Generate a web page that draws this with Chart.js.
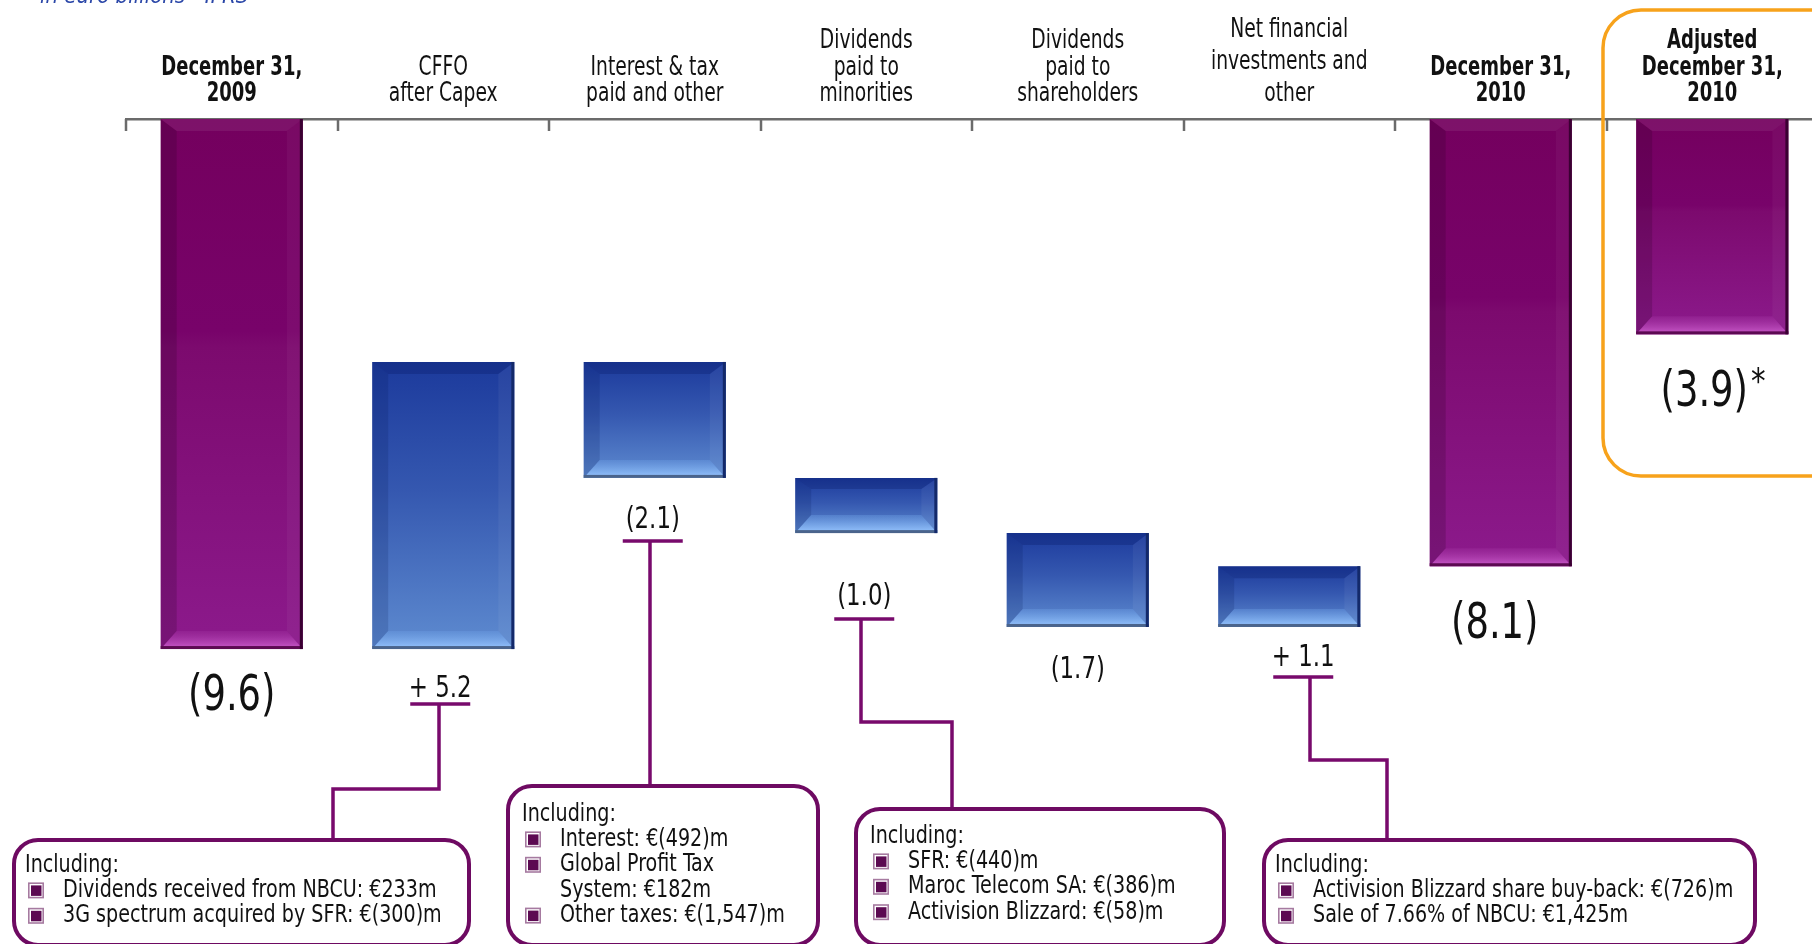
<!DOCTYPE html>
<html><head><meta charset="utf-8">
<script src="https://cdn.jsdelivr.net/npm/chart.js@4.4.1/dist/chart.umd.min.js"></script>
<style>
html,body{margin:0;padding:0;background:#fff;overflow:hidden;}
#wrap{position:relative;width:1830px;height:944px;}
</style></head><body>
<div id="wrap"><canvas id="c"></canvas></div>
<script>
// ---------- data ----------
const categories = [
  ["December 31,","2009"],
  ["CFFO","after Capex"],
  ["Interest & tax","paid and other"],
  ["Dividends","paid to","minorities"],
  ["Dividends","paid to","shareholders"],
  ["Net financial","investments and","other"],
  ["December 31,","2010"],
  ["Adjusted","December 31,","2010"]
];
const openingNetDebt = 9.6;                 // December 31, 2009
const changes = [5.2, -2.1, -1.0, -1.7, 1.1]; // + reduces net debt
const closingNetDebt = 8.1;                 // December 31, 2010
const adjustedNetDebt = 3.9;                // Adjusted December 31, 2010
const valueLabels = ["(9.6)","+ 5.2","(2.1)","(1.0)","(1.7)","+ 1.1","(8.1)","(3.9)"];
const boldCategories = [0, 6, 7];
const subtitle = "in euro billions - IFRS";
const callout1 = [["", "Including:"], ["b", "Dividends received from NBCU: €233m"], ["b", "3G spectrum acquired by SFR: €(300)m"]];
const callout2 = [["", "Including:"], ["b", "Interest: €(492)m"], ["b", "Global Profit Tax"], ["i", "System: €182m"], ["b", "Other taxes: €(1,547)m"]];
const callout3 = [["", "Including:"], ["b", "SFR: €(440)m"], ["b", "Maroc Telecom SA: €(386)m"], ["b", "Activision Blizzard: €(58)m"]];
const callout4 = [["", "Including:"], ["b", "Activision Blizzard share buy-back: €(726)m"], ["b", "Sale of 7.66% of NBCU: €1,425m"]];

// ---------- build waterfall ranges ----------
const n = categories.length;
const totals = new Array(n).fill(null);
const steps = new Array(n).fill(null);
const adjusted = new Array(n).fill(null);
totals[0] = [0, openingNetDebt];
let running = openingNetDebt;
changes.forEach((c, i) => {
  const start = running, end = +(running - c).toFixed(2);
  steps[i + 1] = [start, end];
  running = end;
});
totals[6] = [0, closingNetDebt];
adjusted[7] = [0, adjustedNetDebt];

// ---------- styling ----------
const FONT = '"Liberation Sans Narrow","Arial Narrow","DejaVu Sans Condensed",sans-serif';
const PURPLE = {stops:[[0,'#74005e'],[0.4,'#78036a'],[0.43,'#7c0a6e'],[1,'#8c1a8c']], bevTop:'rgba(255,255,255,0.07)', bevL:'rgba(40,0,35,0.2)', bevR:'rgba(255,255,255,0.04)', bevB0:'#cc5ccc', bevB1:'rgba(160,50,160,0.35)', edgeR:'#3a0032', edgeB:'#5c0a52'};
const BLUE = {stops:[[0,'#1c3a9c'],[0.45,'#3558b0'],[1,'#5e8bd0']], bevTop:'rgba(0,15,80,0.22)', bevL:'rgba(0,20,80,0.16)', bevR:'rgba(255,255,255,0.05)', bevB0:'#98c6ff', bevB1:'rgba(110,160,230,0.35)', edgeR:'#13296a', edgeB:'#4a648c'};

function barBounds(chart, raw) {
  const ys = chart.scales.y;
  const a = ys.getPixelForValue(raw[0]), b = ys.getPixelForValue(raw[1]);
  return [Math.min(a, b), Math.max(a, b)];
}
function fillFor(pal) {
  return (ctx) => {
    const chart = ctx.chart;
    if (ctx.type !== 'data' || !ctx.raw || !chart.chartArea) return pal.stops[1][1];
    const [t, b] = barBounds(chart, ctx.raw);
    const g = chart.ctx.createLinearGradient(0, t, 0, b);
    pal.stops.forEach(s => g.addColorStop(s[0], s[1]));
    return g;
  };
}

const bevelPlugin = {
  id: 'bevel',
  afterDatasetsDraw(chart) {
    const c = chart.ctx;
    chart.data.datasets.forEach((ds, di) => {
      const meta = chart.getDatasetMeta(di);
      const pal = ds._pal;
      meta.data.forEach((el, i) => {
        const raw = ds.data[i];
        if (!raw) return;
        const p = el.getProps(['x', 'y', 'base', 'width'], true);
        const L = p.x - p.width / 2, R = p.x + p.width / 2;
        const T = Math.min(p.y, p.base), B = Math.max(p.y, p.base);
        const h = B - T;
        const s = 16, bb = Math.min(18, h * 0.36), tb = Math.min(12, h * 0.2);
        c.save();
        c.fillStyle = pal.bevL;
        c.beginPath(); c.moveTo(L, T); c.lineTo(L + s, T + tb); c.lineTo(L + s, B - bb); c.lineTo(L, B); c.closePath(); c.fill();
        c.fillStyle = pal.bevR;
        c.beginPath(); c.moveTo(R, T); c.lineTo(R - s, T + tb); c.lineTo(R - s, B - bb); c.lineTo(R, B); c.closePath(); c.fill();
        c.fillStyle = pal.bevTop;
        c.beginPath(); c.moveTo(L, T); c.lineTo(R, T); c.lineTo(R - s, T + tb); c.lineTo(L + s, T + tb); c.closePath(); c.fill();
        const g = c.createLinearGradient(0, B - bb, 0, B);
        g.addColorStop(0, pal.bevB1); g.addColorStop(1, pal.bevB0);
        c.fillStyle = g;
        c.beginPath(); c.moveTo(L, B); c.lineTo(R, B); c.lineTo(R - s, B - bb); c.lineTo(L + s, B - bb); c.closePath(); c.fill();
        c.fillStyle = pal.edgeB; c.fillRect(L, B - 3, p.width, 3);
        c.fillStyle = pal.edgeR; c.fillRect(R - 3, T, 3, h);
        c.restore();
      });
    });
  }
};

// narrow text helper (condensed look)
function txt(c, s, x, y, font, align, sx) {
  c.save();
  c.font = font; c.textAlign = align; c.textBaseline = 'middle';
  c.translate(x, y); c.scale(sx, 1);
  c.fillText(s, 0, 0);
  const w = c.measureText(s).width * sx;
  c.restore();
  return w;
}

// label placement (px below the lower edge of each bar)
const labelDy = [48, 40, 42, 64, 43, 31, 59, 59];
const labelDx = [0, -3, -2, -2, 0, 14, -6, -8];
const labelBig = [true, false, false, false, false, false, true, true];

const callouts = [
  {cat: 1, ul: 15, lines: callout1, box: [14, 840, 469, 945], path: [[333, 840], [333, 789], [439, 789]], tx: 28, ty: 865},
  {cat: 2, ul: 21, lines: callout2, box: [508, 786, 818, 945], path: [[650, 786]], tx: 525, ty: 814},
  {cat: 3, ul: 22, lines: callout3, box: [856, 809, 1224, 945], path: [[952, 809], [952, 722], [861, 722]], tx: 873, ty: 836},
  {cat: 5, ul: 19, lines: callout4, box: [1264, 840, 1755, 945], path: [[1387, 840], [1387, 760], [1310, 760]], tx: 1278, ty: 865}
];

function roundRect(c, x0, y0, x1, y1, r) {
  c.beginPath();
  c.moveTo(x0 + r, y0); c.lineTo(x1 - r, y0); c.arcTo(x1, y0, x1, y0 + r, r);
  c.lineTo(x1, y1 - r); c.arcTo(x1, y1, x1 - r, y1, r);
  c.lineTo(x0 + r, y1); c.arcTo(x0, y1, x0, y1 - r, r);
  c.lineTo(x0, y0 + r); c.arcTo(x0, y0, x0 + r, y0, r);
  c.closePath();
}

const decorPlugin = {
  id: 'decor',
  afterDraw(chart) {
    const c = chart.ctx, xs = chart.scales.x, area = chart.chartArea;
    const cw = xs.getPixelForValue(1) - xs.getPixelForValue(0);
    c.save();
    c.fillStyle = '#2b47a8';
    c.font = 'italic 22px ' + FONT;
    c.textBaseline = 'alphabetic'; c.textAlign = 'left';
    c.fillText(subtitle, 40, 3);
    // category labels at the axis tick positions
    c.fillStyle = '#111';
    categories.forEach((lines, i) => {
      const x = xs.getPixelForTick(i);
      const bold = boldCategories.includes(i);
      const lh = i === 5 ? 32 : 26.5;
      lines.forEach((ln, j) => {
        const y = area.top - 24.5 - (lines.length - 1 - j) * lh;
        txt(c, ln, x, y, (bold ? 'bold ' : '') + '26px ' + FONT, 'center', bold ? 0.77 : 0.8);
      });
    });
    // ticks hanging below axis
    c.strokeStyle = '#6b6b6b'; c.lineWidth = 2.5;
    for (let i = 0; i < n; i++) {
      const x = Math.round(xs.getPixelForValue(i) - cw / 2);
      c.beginPath(); c.moveTo(x, area.top); c.lineTo(x, area.top + 12); c.stroke();
    }
    // value labels
    const bottoms = [];
    chart.data.datasets.forEach((ds, di) => {
      const meta = chart.getDatasetMeta(di);
      meta.data.forEach((el, i) => {
        if (!ds.data[i]) return;
        const p = el.getProps(['x', 'y', 'base'], true);
        bottoms[i] = {x: p.x, b: Math.max(p.y, p.base)};
      });
    });
    const labelPos = [];
    c.fillStyle = '#111';
    valueLabels.forEach((t, i) => {
      const x = bottoms[i].x + labelDx[i], y = bottoms[i].b + labelDy[i];
      const w = txt(c, t, x, y, (labelBig[i] ? '50px ' : '31px ') + FONT, 'center', 0.82);
      if (i === 7) txt(c, '*', x + w / 2 + 3, y - 10, '36px ' + FONT, 'left', 0.9);
      labelPos[i] = {x, y};
    });
    // callouts
    const PUR = '#780a6c';
    callouts.forEach((co) => {
      const lp = labelPos[co.cat];
      const uy = lp.y + co.ul;
      c.strokeStyle = PUR; c.lineWidth = 3.5; c.lineCap = 'butt';
      c.beginPath(); c.moveTo(lp.x - 30, uy); c.lineTo(lp.x + 30, uy); c.stroke();
      const stemX = co.path[co.path.length - 1][0];
      c.beginPath(); c.moveTo(stemX, uy);
      for (let j = co.path.length - 1; j >= 0; j--) c.lineTo(co.path[j][0], co.path[j][1]);
      c.stroke();
      const [x0, y0, x1, y1] = co.box;
      c.fillStyle = '#fff';
      roundRect(c, x0, y0, x1, y1, 24); c.fill();
      c.strokeStyle = '#6e0a62'; c.lineWidth = 4; c.stroke();
      co.lines.forEach((ln, j) => {
        const y = co.ty + j * 25.4;
        c.fillStyle = '#111';
        if (ln[0] === '') { txt(c, ln[1], co.tx - 3, y, '25px ' + FONT, 'left', 0.85); return; }
        txt(c, ln[1], co.tx + 35, y, '25px ' + FONT, 'left', 0.85);
        if (ln[0] === 'b') {
          const bx = co.tx, by = y - 8;
          c.fillStyle = '#fff'; c.fillRect(bx, by, 16, 16);
          c.strokeStyle = '#a67aa0'; c.lineWidth = 1.6; c.strokeRect(bx + 0.8, by + 0.8, 14.4, 14.4);
          c.fillStyle = '#5c0a52'; c.fillRect(bx + 3, by + 3, 10.5, 10.5);
        }
      });
    });
    // orange highlight frame
    c.strokeStyle = '#f7a21b'; c.lineWidth = 3.5;
    roundRect(c, 1603, 10, 1850, 476, 38); c.stroke();
    c.restore();
  }
};

const ctx = document.getElementById('c').getContext('2d');
new Chart(ctx, {
  type: 'bar',
  data: {
    labels: categories,
    datasets: [
      {data: totals, _pal: PURPLE, backgroundColor: fillFor(PURPLE), grouped: false, barPercentage: 0.672, categoryPercentage: 1},
      {data: steps, _pal: BLUE, backgroundColor: fillFor(BLUE), grouped: false, barPercentage: 0.672, categoryPercentage: 1},
      {data: adjusted, _pal: PURPLE, backgroundColor: fillFor(PURPLE), grouped: false, barPercentage: 0.72, categoryPercentage: 1}
    ]
  },
  options: {
    responsive: true, maintainAspectRatio: false, animation: false,
    layout: {padding: {left: 126, right: 12, top: 0, bottom: 52}},
    plugins: {legend: {display: false}, tooltip: {enabled: false}},
    scales: {
      x: {
        position: 'top', offset: true,
        grid: {display: false, drawTicks: false},
        border: {display: true, color: '#6b6b6b', width: 2.5},
        ticks: {display: false},
        afterFit: (s) => { s.height = 119; }
      },
      y: {display: false, reverse: true, min: 0, max: 14}
    }
  },
  plugins: [bevelPlugin, decorPlugin]
});
</script>
</body></html>
